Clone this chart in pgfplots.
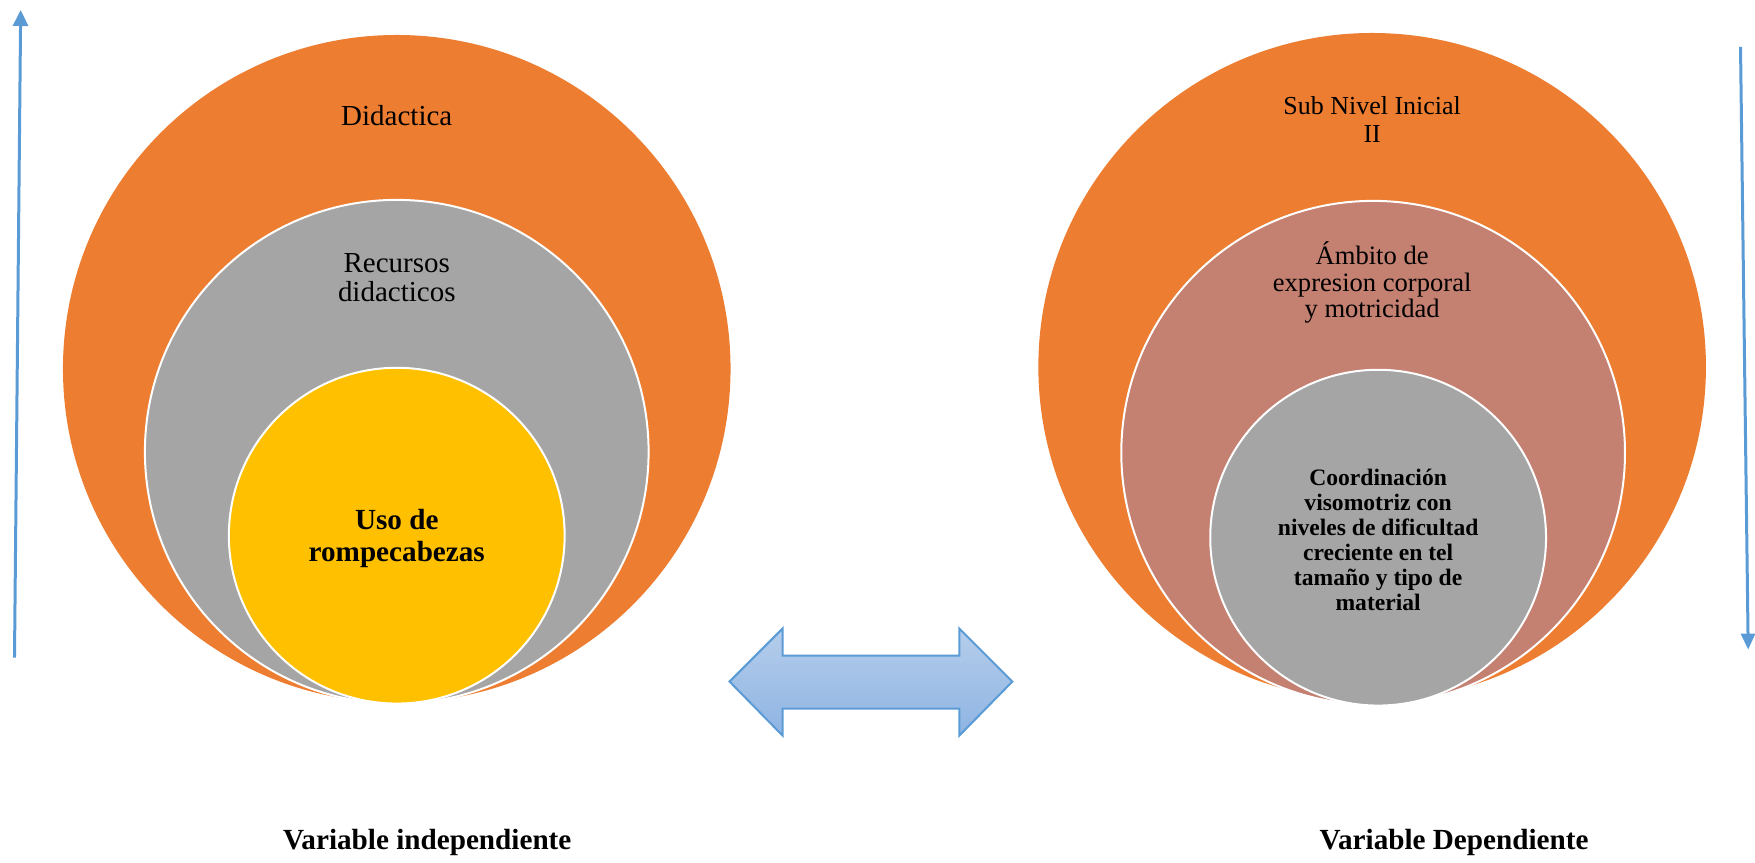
\documentclass[border=0pt]{standalone}
\usepackage{pgfplots}
\pgfplotsset{compat=1.18}
\usepackage{fontspec}
\setmainfont{Liberation Serif}
\usetikzlibrary{arrows.meta}
\definecolor{corange}{HTML}{ED7D31}
\definecolor{cgray}{HTML}{A5A5A5}
\definecolor{cyellow}{HTML}{FFC000}
\definecolor{csalmon}{HTML}{C48070}
\definecolor{cblue}{HTML}{5B9BD5}
\definecolor{ctop}{HTML}{B5CDEB}
\definecolor{cbot}{HTML}{8EB4E3}
\begin{document}
\begin{tikzpicture}
\begin{axis}[
  x=0.5pt, y=0.5pt,
  xmin=0, xmax=1755, ymin=0, ymax=861,
  y dir=reverse,
  hide axis, clip=false,
  scale only axis,
]
\addplot[draw=none] coordinates {(0,0) (1755,861)};
% left concentric circles
\fill[corange] (axis cs:397,369) circle [radius=334];
\filldraw[fill=cgray, draw=white, line width=1pt] (axis cs:397,452) circle [radius=252];
\filldraw[fill=cyellow, draw=white, line width=1pt] (axis cs:397,536) circle [radius=168];
% right concentric circles
\fill[corange] (axis cs:1373,367) circle [radius=334];
\filldraw[fill=csalmon, draw=white, line width=1pt] (axis cs:1374,453) circle [radius=252];
\filldraw[fill=cgray, draw=white, line width=1pt] (axis cs:1379,538) circle [radius=168];
% thin arrows
\draw[cblue, line width=1.5pt, -{Triangle[width=7.5pt,length=8pt]}] (axis cs:14.5,658) -- (axis cs:20.7,10);
\draw[cblue, line width=1.5pt, -{Triangle[width=7pt,length=8pt]}] (axis cs:1741.6,47) -- (axis cs:1749.3,650);
% double arrow
\draw[draw=cblue, line width=1pt, top color=ctop, bottom color=cbot]
  (axis cs:730,682) -- (axis cs:783,629) -- (axis cs:783,656) -- (axis cs:960,656)
  -- (axis cs:960,629) -- (axis cs:1013,682) -- (axis cs:960,736) -- (axis cs:960,709)
  -- (axis cs:783,709) -- (axis cs:783,736) -- cycle;
% texts (anchor=base is the baseline of the last line)
\node[anchor=base, font=\fontsize{14.5}{14.5}\selectfont] at (axis cs:397,126) {Didactica};
\node[anchor=base, align=center, font=\fontsize{14.5}{14.5}\selectfont] at (axis cs:397,302) {Recursos\\didacticos};
\node[anchor=base, align=center, font=\fontsize{14.6}{16}\selectfont\bfseries] at (axis cs:397,562) {Uso de\\rompecabezas};
\node[anchor=base, align=center, font=\fontsize{13}{14}\selectfont] at (axis cs:1373,143) {Sub Nivel Inicial\\II};
\node[anchor=base, align=center, font=\fontsize{13.3}{13.3}\selectfont] at (axis cs:1373,318) {Ámbito de\\expresion corporal\\y motricidad};
\node[anchor=base, align=center, font=\fontsize{11.8}{12.5}\selectfont\bfseries] at (axis cs:1379,611) {Coordinación\\visomotriz con\\niveles de dificultad\\creciente en tel\\tamaño y tipo de\\material};
\node[anchor=base, font=\fontsize{14.6}{16}\selectfont\bfseries] at (axis cs:427.5,850) {Variable independiente};
\node[anchor=base, font=\fontsize{14.6}{16}\selectfont\bfseries] at (axis cs:1455,850) {Variable Dependiente};
\end{axis}
\end{tikzpicture}
\end{document}
